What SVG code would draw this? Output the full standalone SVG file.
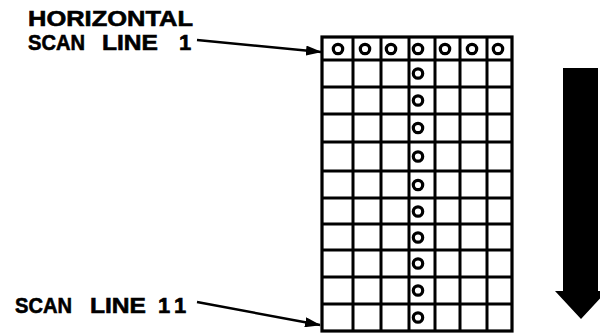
<svg xmlns="http://www.w3.org/2000/svg" width="600" height="333" viewBox="0 0 600 333">
<style>
.lbl{font-family:"Liberation Sans",Arial,sans-serif;font-weight:bold;font-size:22px;fill:#000;stroke:#000;stroke-width:0.6}
.grid line{stroke:#000;stroke-width:3}
.dot{fill:none;stroke:#000;stroke-width:3.2}
.conn{stroke:#000;stroke-width:2.4;fill:none}
</style>
<defs>
<marker id="ah" markerWidth="16" markerHeight="10" refX="15" refY="5" orient="auto" markerUnits="userSpaceOnUse">
<path d="M0,0 L16,5 L0,10 Z" fill="#000"/>
</marker>
</defs>
<rect width="600" height="333" fill="#fff"/>
<g id="label-top">
<text class="lbl" x="28" y="25.5" textLength="165" lengthAdjust="spacingAndGlyphs">HORIZONTAL</text>
<text class="lbl" x="28" y="50" textLength="57" lengthAdjust="spacingAndGlyphs">SCAN</text>
<text class="lbl" x="102" y="50" textLength="56" lengthAdjust="spacingAndGlyphs">LINE</text>
<text class="lbl" x="179" y="50">1</text>
</g>
<g id="label-bottom">
<text class="lbl" x="15" y="313" textLength="57" lengthAdjust="spacingAndGlyphs">SCAN</text>
<text class="lbl" x="90" y="313" textLength="56" lengthAdjust="spacingAndGlyphs">LINE</text>
<text class="lbl" x="158" y="313" letter-spacing="5">11</text>
</g>
<g id="grid" class="grid">
<rect x="322" y="37" width="190" height="294" fill="#fff" stroke="#000" stroke-width="3.2"/>
<line x1="353" y1="37" x2="353" y2="331"/>
<line x1="381" y1="37" x2="381" y2="331"/>
<line x1="409" y1="37" x2="409" y2="331"/>
<line x1="435" y1="37" x2="435" y2="331"/>
<line x1="460" y1="37" x2="460" y2="331"/>
<line x1="487" y1="37" x2="487" y2="331"/>
<line x1="322" y1="60" x2="512" y2="60"/>
<line x1="322" y1="87" x2="512" y2="87"/>
<line x1="322" y1="114" x2="512" y2="114"/>
<line x1="322" y1="142" x2="512" y2="142"/>
<line x1="322" y1="171" x2="512" y2="171"/>
<line x1="322" y1="198" x2="512" y2="198"/>
<line x1="322" y1="224" x2="512" y2="224"/>
<line x1="322" y1="250" x2="512" y2="250"/>
<line x1="322" y1="277" x2="512" y2="277"/>
<line x1="322" y1="304" x2="512" y2="304"/>
</g>
<g id="dots">
<circle class="dot" cx="338" cy="49" r="4.7"/>
<circle class="dot" cx="365" cy="49" r="4.7"/>
<circle class="dot" cx="391" cy="49" r="4.7"/>
<circle class="dot" cx="418" cy="49" r="4.7"/>
<circle class="dot" cx="445" cy="49" r="4.7"/>
<circle class="dot" cx="472" cy="49" r="4.7"/>
<circle class="dot" cx="498" cy="49" r="4.7"/>
<circle class="dot" cx="418" cy="73.5" r="4.7"/>
<circle class="dot" cx="418" cy="100.5" r="4.7"/>
<circle class="dot" cx="418" cy="128" r="4.7"/>
<circle class="dot" cx="418" cy="156.5" r="4.7"/>
<circle class="dot" cx="418" cy="185" r="4.7"/>
<circle class="dot" cx="418" cy="211.5" r="4.7"/>
<circle class="dot" cx="418" cy="237.5" r="4.7"/>
<circle class="dot" cx="418" cy="263.5" r="4.7"/>
<circle class="dot" cx="418" cy="290.5" r="4.7"/>
<circle class="dot" cx="418" cy="317.5" r="4.7"/>
</g>
<g id="scan-direction">
<path d="M563,68 H598 V291 H607 L581,319 L555,291 H563 Z" fill="#000"/>
</g>
<g id="connectors">
<line class="conn" x1="197" y1="40" x2="321" y2="52" marker-end="url(#ah)"/>
<line class="conn" x1="197" y1="302" x2="320" y2="325" marker-end="url(#ah)"/>
</g>
</svg>
